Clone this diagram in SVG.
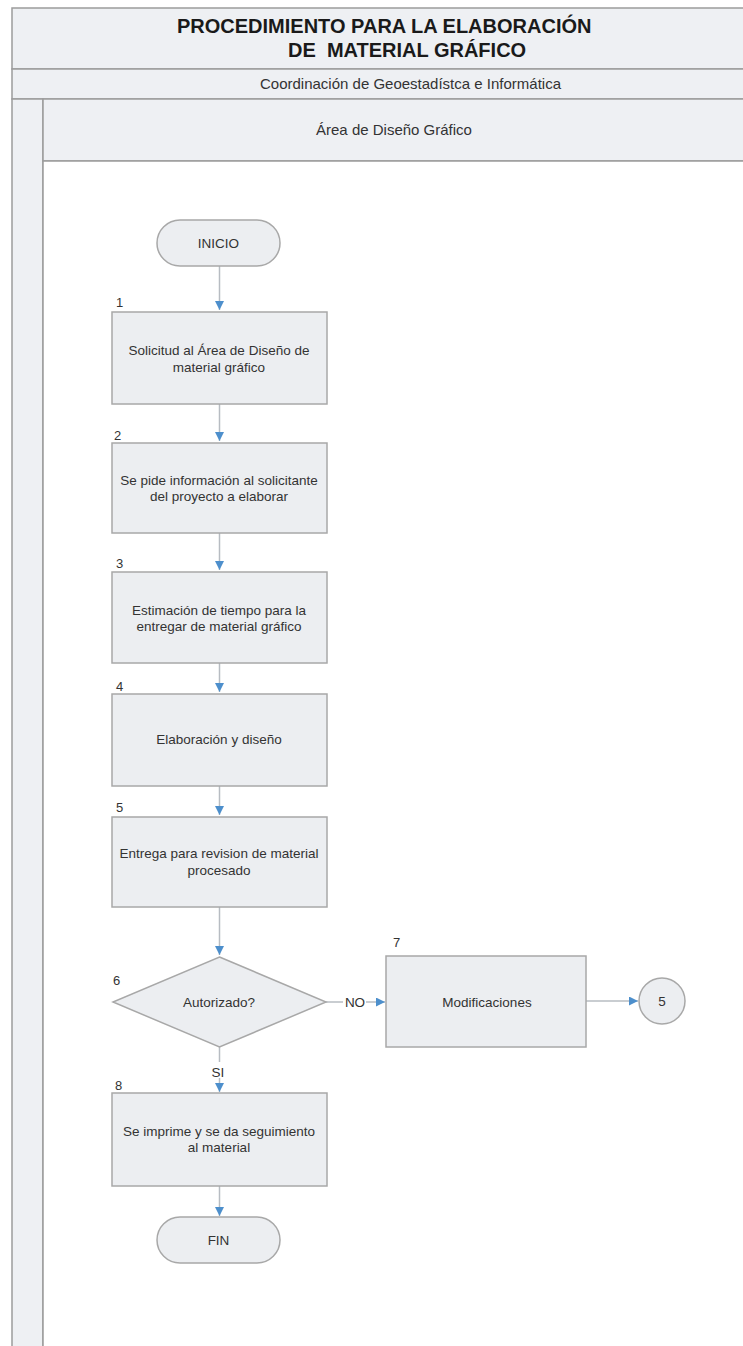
<svg xmlns="http://www.w3.org/2000/svg" width="743" height="1346" viewBox="0 0 743 1346">
<defs>
<style>
.frame{fill:#eef0f3;stroke:#9c9c9c;stroke-width:1.5}
.body{fill:#ffffff;stroke:#9c9c9c;stroke-width:1.5}
.box{fill:#eceef1;stroke:#a8a8a8;stroke-width:1.5}
.t{font-family:"Liberation Sans",Arial,sans-serif;fill:#333333}
.title{font-family:"Liberation Sans",Arial,sans-serif;font-weight:bold;font-size:20px;fill:#1a1a1a}
.lbl{font-size:13.5px;text-anchor:middle}
.num{font-size:13px}
.conn{stroke:#b7bcc2;stroke-width:1.5;fill:none}
</style>
<marker id="ah" viewBox="0 0 10 10" refX="10" refY="5" markerWidth="9" markerHeight="9" markerUnits="userSpaceOnUse" orient="auto">
<path d="M0,0 L10,5 L0,10 Z" fill="#4d8fcc"/>
</marker>
</defs>
<rect width="743" height="1346" fill="#ffffff"/>
<g id="header">
<rect class="frame" x="12" y="8" width="740" height="61"/>
<text class="title" x="177" y="33">PROCEDIMIENTO PARA LA ELABORACIÓN</text>
<text class="title" x="288" y="57" xml:space="preserve">DE  MATERIAL GRÁFICO</text>
<rect class="frame" x="12" y="69" width="740" height="30"/>
<text class="t" x="260" y="89" font-size="15">Coordinación de Geoestadístca e Informática</text>
</g>
<g id="lane">
<rect class="frame" x="12" y="99" width="31" height="1260"/>
<rect class="frame" x="43" y="99" width="710" height="62"/>
<text class="t" x="394" y="135" font-size="15" text-anchor="middle">Área de Diseño Gráfico</text>
<rect class="body" x="43" y="161" width="710" height="1200"/>
</g>
<g id="connectors">
<line class="conn" x1="219.5" y1="266" x2="219.5" y2="310" marker-end="url(#ah)"/>
<line class="conn" x1="219.5" y1="404" x2="219.5" y2="441" marker-end="url(#ah)"/>
<line class="conn" x1="219.5" y1="533" x2="219.5" y2="570" marker-end="url(#ah)"/>
<line class="conn" x1="219.5" y1="663" x2="219.5" y2="692" marker-end="url(#ah)"/>
<line class="conn" x1="219.5" y1="786" x2="219.5" y2="815" marker-end="url(#ah)"/>
<line class="conn" x1="219.5" y1="907" x2="219.5" y2="955" marker-end="url(#ah)"/>
<line class="conn" x1="326" y1="1002" x2="343" y2="1002"/>
<line class="conn" x1="366" y1="1002" x2="385" y2="1002" marker-end="url(#ah)"/>
<text class="t lbl" x="355" y="1007">NO</text>
<line class="conn" x1="586" y1="1001" x2="638" y2="1001" marker-end="url(#ah)"/>
<line class="conn" x1="219.5" y1="1047" x2="219.5" y2="1062"/>
<line class="conn" x1="219.5" y1="1078" x2="219.5" y2="1092" marker-end="url(#ah)"/>
<text class="t lbl" x="218" y="1077">SI</text>
<line class="conn" x1="219.5" y1="1186" x2="219.5" y2="1216" marker-end="url(#ah)"/>
</g>
<g id="inicio">
<rect class="box" x="157" y="220" width="123" height="46" rx="23"/>
<text class="t lbl" x="218.5" y="248" font-size="13">INICIO</text>
</g>
<g id="n1">
<text class="t num" x="116" y="307">1</text>
<rect class="box" x="112" y="312" width="215" height="92"/>
<text class="t lbl" x="219" y="355">Solicitud al Área de Diseño de</text>
<text class="t lbl" x="219" y="372">material gráfico</text>
</g>
<g id="n2">
<text class="t num" x="114" y="440">2</text>
<rect class="box" x="112" y="443" width="215" height="90"/>
<text class="t lbl" x="219" y="485">Se pide información al solicitante</text>
<text class="t lbl" x="219" y="501">del proyecto a elaborar</text>
</g>
<g id="n3">
<text class="t num" x="116" y="568">3</text>
<rect class="box" x="112" y="572" width="215" height="91"/>
<text class="t lbl" x="219" y="615">Estimación de tiempo para la</text>
<text class="t lbl" x="219" y="631">entregar de material gráfico</text>
</g>
<g id="n4">
<text class="t num" x="116" y="691">4</text>
<rect class="box" x="112" y="694" width="215" height="92"/>
<text class="t lbl" x="219" y="744">Elaboración y diseño</text>
</g>
<g id="n5">
<text class="t num" x="116" y="812">5</text>
<rect class="box" x="112" y="817" width="215" height="90"/>
<text class="t lbl" x="219" y="858">Entrega para revision de material</text>
<text class="t lbl" x="219" y="875">procesado</text>
</g>
<g id="n6">
<text class="t num" x="113" y="985">6</text>
<polygon class="box" points="219.5,957 326,1002 219.5,1047 113,1002"/>
<text class="t lbl" x="219" y="1007">Autorizado?</text>
</g>
<g id="n7">
<text class="t num" x="393" y="947">7</text>
<rect class="box" x="386" y="956" width="200" height="91"/>
<text class="t lbl" x="487" y="1007">Modificaciones</text>
</g>
<g id="c5">
<circle class="box" cx="662" cy="1001" r="23"/>
<text class="t lbl" x="662" y="1006">5</text>
</g>
<g id="n8">
<text class="t num" x="115" y="1090">8</text>
<rect class="box" x="112" y="1093" width="215" height="93"/>
<text class="t lbl" x="219" y="1136">Se imprime y se da seguimiento</text>
<text class="t lbl" x="219" y="1152">al material</text>
</g>
<g id="fin">
<rect class="box" x="157" y="1217" width="123" height="46" rx="23"/>
<text class="t lbl" x="218.5" y="1245" font-size="13">FIN</text>
</g>
</svg>
